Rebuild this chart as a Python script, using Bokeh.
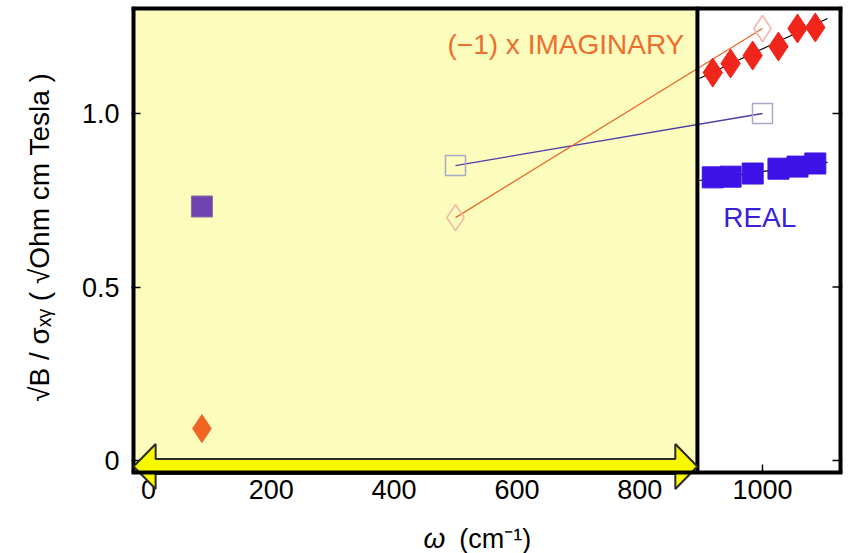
from bokeh.plotting import figure
from bokeh.models import FixedTicker, Range1d
from bokeh.core.properties import value
from bokeh.embed import file_html
from bokeh.resources import INLINE

# ---------------- data ----------------
omega_meas = [919, 948, 984, 1026, 1057, 1086]           # cm^-1
real_meas = [0.816, 0.818, 0.827, 0.841, 0.847, 0.856]
imag_meas = [1.118, 1.144, 1.167, 1.193, 1.245, 1.248]

fit_omega = [897, 1106]
fit_real = [0.807, 0.859]
fit_imag = [1.101, 1.274]

omega_model = [500, 1000]
model_real = [0.850, 1.000]
model_imag = [0.700, 1.245]

omega_dc = [87]
dc_real = [0.732]
dc_imag = [0.092]

x_ticks = [0, 200, 400, 600, 800, 1000]
y_ticks = [0, 0.5, 1.0]
y_tick_labels = ["0", "0.5", "1.0"]

# ---------------- layout constants (data units) ----------------
X0, X1 = -27.7, 1130.3          # plotted omega span
Y0, Y1 = -0.268, 1.3084         # frame (extends below the box for arrow and x label)
BOX_BOTTOM = -0.0346            # bottom edge of the boxed plot area
BAND_RIGHT = 894                # right edge of the yellow band
ARROW = dict(left=-24.4, right=894, yc=-0.0173, shaft=0.0216, head=0.065, head_len=36)
XLABEL_POS = dict(omega_x=448, unit_x=506, y=-0.2248)

FONT = "Liberation Sans"
PAD = "\u00a0" * 12             # lifts the centred y label to the box centre

p = figure(width=850, height=553, output_backend="svg", toolbar_location=None,
           x_range=Range1d(X0, X1), y_range=Range1d(Y0, Y1),
           min_border_left=131, min_border_right=8, min_border_top=6,
           min_border_bottom=0)
p.background_fill_color = "white"
p.border_fill_color = "white"
p.outline_line_color = None
p.grid.visible = False

# yellow band
p.quad(left=[X0], right=[BAND_RIGHT], bottom=[BOX_BOTTOM], top=[Y1],
       fill_color="#fcfcbc", line_color=None)

# fit lines
p.line(fit_omega, fit_imag, line_color="black", line_width=1.2)
p.line(fit_omega, fit_real, line_color="black", line_width=1.2)

# model (open) points and connecting lines
p.line(omega_model, model_real, line_color="#4a3ea8", line_width=1.3)
p.line(omega_model, model_imag, line_color="#e8682e", line_width=1.3)
p.scatter(omega_model, model_real, marker="square", size=20, fill_color=None,
          line_color="#a8a8cc", line_width=1.5)
p.scatter(omega_model, model_imag, marker="diamond", size=26, fill_color=None,
          line_color="#f2b4a4", line_width=1.5)

# measured points
p.scatter(omega_meas, real_meas, marker="square", size=21, fill_color="#3c12e6",
          line_color="#3c12e6")
p.scatter(omega_meas, imag_meas, marker="diamond", size=29, fill_color="#f0261c",
          line_color="#f0261c")

# DC points
p.scatter(omega_dc, dc_real, marker="square", size=21, fill_color="#7044b0",
          line_color="#8a70a0", line_width=1)
p.scatter(omega_dc, dc_imag, marker="diamond", size=28, fill_color="#f06424",
          line_color="#f06424")

# texts
p.text(x=[487], y=[1.199], text=["(\u22121) x IMAGINARY"], text_color="#ee6e30",
       text_font=value(FONT), text_font_size="28px", text_baseline="middle",
       text_align="left")
p.text(x=[936], y=[0.700], text=["REAL"], text_color="#3a20d8",
       text_font=value(FONT), text_font_size="28px", text_baseline="middle",
       text_align="left")

# box borders (left/top/right sit on the frame edge, so half is clipped)
p.line([X0, X0], [BOX_BOTTOM, Y1], line_color="black", line_width=8)
p.line([X0, X1], [Y1, Y1], line_color="black", line_width=8)
p.line([X1, X1], [BOX_BOTTOM, Y1], line_color="black", line_width=8)
p.line([BAND_RIGHT, BAND_RIGHT], [BOX_BOTTOM, Y1], line_color="black", line_width=4)

# inward ticks on the bottom and right edges of the box
tick_dx = 10 / 0.614
tick_dy = 8 / 347
p.segment(x0=x_ticks, y0=[BOX_BOTTOM] * len(x_ticks), x1=x_ticks,
          y1=[BOX_BOTTOM + tick_dy] * len(x_ticks), line_color="black", line_width=1.5)
p.segment(x0=[X1] * len(y_ticks), y0=y_ticks, x1=[X1 - tick_dx] * len(y_ticks),
          y1=y_ticks, line_color="black", line_width=1.5)

# double-headed arrow along the bottom of the band (drawn above the tick labels)
a = ARROW
L, R, yc = a["left"], a["right"], a["yc"]
sh, hh, hl = a["shaft"], a["head"], a["head_len"]
p.patch([L, L + hl, L + hl, R - hl, R - hl, R, R - hl, R - hl, L + hl, L + hl],
        [yc, yc + hh, yc + sh, yc + sh, yc + hh, yc, yc - hh, yc - sh, yc - sh, yc - hh],
        fill_color="#f8f800", line_color="#2a2a2a", line_width=2, level="overlay")
p.line([X0, X1], [BOX_BOTTOM, BOX_BOTTOM], line_color="black", line_width=4,
       level="overlay")

# x-axis label (inside the extended frame, below the tick labels)
p.text(x=[XLABEL_POS["omega_x"]], y=[XLABEL_POS["y"]], text=["\u03c9"],
       text_font=value(FONT), text_font_size="28px", text_font_style="italic",
       text_baseline="middle", text_align="left", text_color="black")
p.text(x=[XLABEL_POS["unit_x"]], y=[XLABEL_POS["y"]], text=["(cm\u207b\u00b9)"],
       text_font=value(FONT), text_font_size="27px",
       text_baseline="middle", text_align="left", text_color="black")

# axes
xa = p.xaxis[0]
xa.ticker = FixedTicker(ticks=x_ticks)
xa.major_tick_line_color = None
xa.major_tick_in = 0
xa.major_tick_out = 0
xa.major_label_standoff = -74

ya = p.yaxis[0]
ya.ticker = FixedTicker(ticks=y_ticks)
ya.major_label_overrides = {t: s for t, s in zip(y_ticks, y_tick_labels)}
ya.major_tick_in = 9
ya.major_tick_out = 0
ya.major_tick_line_width = 1.5
ya.major_label_standoff = 12
ya.axis_label = PAD + "\u221aB / \u03c3\u2093\u1d67  ( \u221aOhm cm Tesla )"
ya.axis_label_standoff = 24
ya.axis_label_text_font = FONT
ya.axis_label_text_font_size = "28px"
ya.axis_label_text_font_style = "normal"
ya.axis_label_text_color = "black"

for ax in (xa, ya):
    ax.axis_line_color = None
    ax.minor_tick_line_color = None
    ax.major_label_text_font = FONT
    ax.major_label_text_font_size = "27px"
    ax.major_label_text_color = "black"

open("out.html", "w").write(file_html(p, INLINE))
